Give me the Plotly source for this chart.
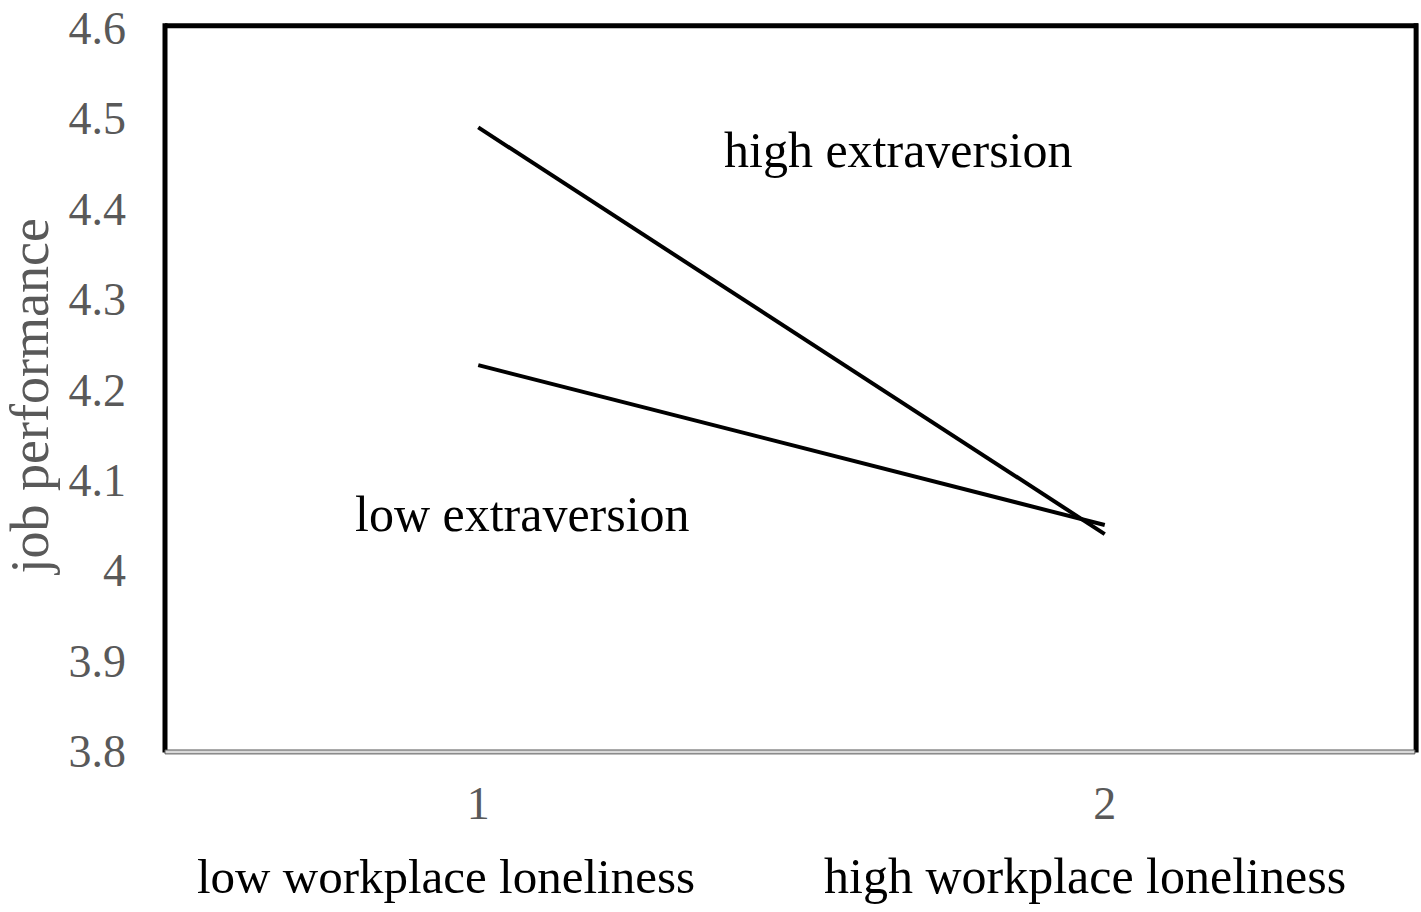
import plotly.graph_objects as go

x_levels = [1, 2]
x_tick_labels = ["1", "2"]
x_category_labels = ["low workplace loneliness", "high workplace loneliness"]
high_extraversion = [4.49, 4.04]
low_extraversion = [4.227, 4.05]
y_ticks = [3.8, 3.9, 4.0, 4.1, 4.2, 4.3, 4.4, 4.5, 4.6]
y_tick_labels = ["3.8", "3.9", "4", "4.1", "4.2", "4.3", "4.4", "4.5", "4.6"]

FONT = "Liberation Serif, Times New Roman, serif"
GRAY = "#595959"

fig = go.Figure()
fig.add_trace(go.Scatter(x=x_levels, y=high_extraversion, mode="lines",
                         line=dict(color="black", width=4), name="high extraversion",
                         showlegend=False))
fig.add_trace(go.Scatter(x=x_levels, y=low_extraversion, mode="lines",
                         line=dict(color="black", width=4), name="low extraversion",
                         showlegend=False))

fig.update_layout(
    width=1421, height=912,
    margin=dict(l=165, r=3, t=26, b=161),
    paper_bgcolor="white", plot_bgcolor="white",
    font=dict(family=FONT),
    xaxis=dict(range=[0.5, 2.5], tickvals=x_levels, ticktext=x_tick_labels,
               showgrid=False, zeroline=False, showline=False, ticks="",
               tickfont=dict(size=46, color=GRAY, family=FONT),
               ticklabelstandoff=21),
    yaxis=dict(range=[3.8, 4.6], tickvals=y_ticks, ticktext=y_tick_labels,
               showgrid=False, zeroline=False, showline=False, ticks="",
               tickfont=dict(size=46, color=GRAY, family=FONT),
               ticklabelstandoff=38),
)

# frame: black top/left/right, gray bottom axis line
fig.add_shape(type="line", xref="paper", yref="paper", x0=0, x1=1, y0=1.003, y1=1.003,
              line=dict(color="black", width=5))
fig.add_shape(type="line", xref="paper", yref="paper", x0=0, x1=0, y0=-0.002, y1=1.0065,
              line=dict(color="black", width=5))
fig.add_shape(type="line", xref="paper", yref="paper", x0=0.9985, x1=0.9985, y0=-0.002, y1=1.0065,
              line=dict(color="black", width=5))
fig.add_shape(type="rect", xref="paper", yref="paper", x0=0.0, x1=0.9975, y0=-0.004, y1=0.0014,
              fillcolor="#d9d9d9", line=dict(color=GRAY, width=1))

# series labels
fig.add_annotation(x=1.67, y=4.4655, text="high extraversion", showarrow=False,
                   font=dict(size=50, color="black", family=FONT))
fig.add_annotation(x=1.0706, y=4.0625, text="low extraversion", showarrow=False,
                   font=dict(size=50, color="black", family=FONT))

# category labels under ticks
offsets = [-0.052, -0.032]
sizes = [49, 50]
for xv, lab, off, sz in zip(x_levels, x_category_labels, offsets, sizes):
    fig.add_annotation(x=xv + off, y=-0.215, xref="x", yref="paper",
                       text=lab, showarrow=False,
                       font=dict(size=sz, color="black", family=FONT))

# y-axis title
fig.add_annotation(x=-0.108, y=0.49, xref="paper", yref="paper", text="job performance",
                   textangle=-90, showarrow=False, xanchor="center", yanchor="middle",
                   font=dict(size=54, color=GRAY, family=FONT))

fig.write_html("out.html", config={"displayModeBar": False},
               post_script="document.body.style.margin='0px';")
